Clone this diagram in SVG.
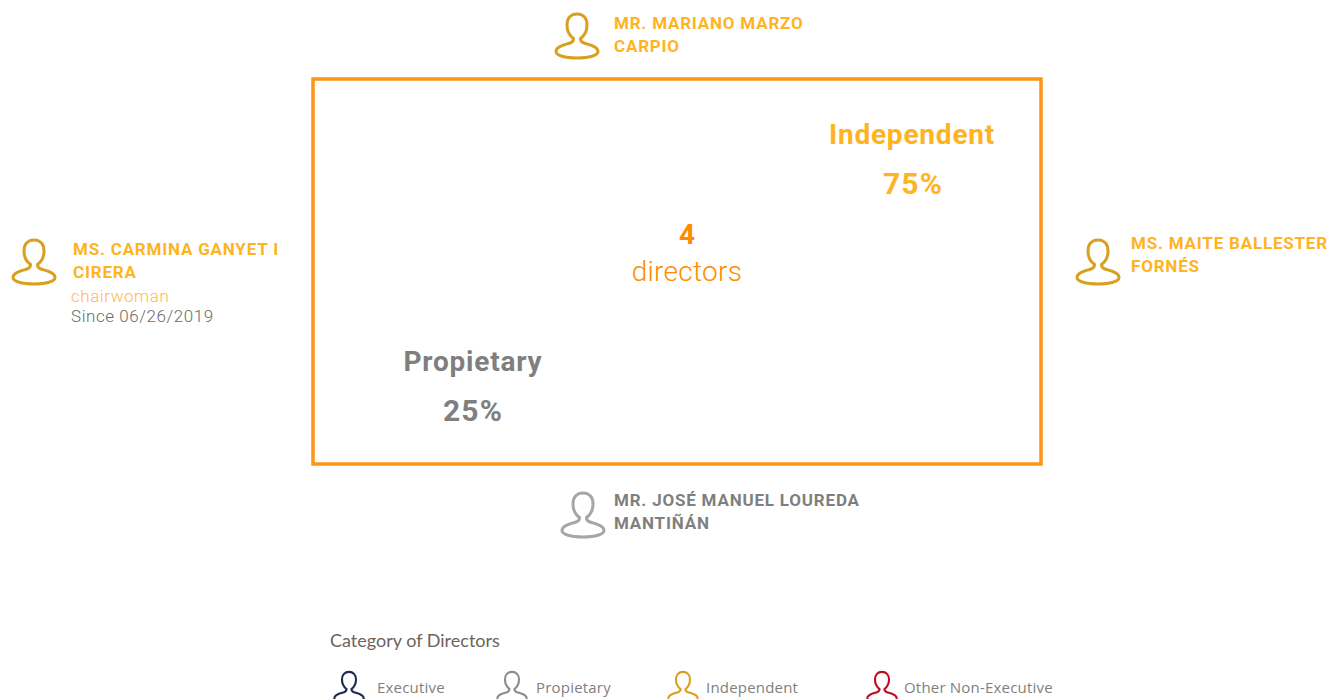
<svg xmlns="http://www.w3.org/2000/svg" width="1330" height="699" viewBox="0 0 1330 699">
<style>
text{font-family:"Roboto","Liberation Sans",sans-serif}
.n{font-size:17px;font-weight:700;letter-spacing:.8px;fill:#ffb31f}
.g{fill:#7f7f7f}
.t{font-size:28px;font-weight:700;letter-spacing:.8px;text-anchor:middle}
.c{font-size:30px;font-weight:700;letter-spacing:1.2px;text-anchor:middle}
.l{font-family:"Open Sans","Liberation Sans",sans-serif;font-size:15px;letter-spacing:.2px;fill:#7f7f7f}
.s{font-size:17px;font-weight:300;letter-spacing:.55px}
.p{fill:none;stroke-width:3}
</style>
<defs>
<g id="person">
<path class="p" d="M-10-12C-10-19-6-23 0-23S10-19 10-12C10-6 7-1 3.500 1.500C3.500 3.500 4 5 7 6C13 8 21 9.500 21 14.500C21 18.500 12 21 0 21S-21 18.500-21 14.500C-21 9.500-13 8-7 6C-4 5-3.500 3.500-3.500 1.500C-7-1-10-6-10-12Z"/>
</g>
</defs>
<g id="connectors"></g>
<g id="board"><rect x="313" y="79" width="728" height="385" fill="none" stroke="#ff9416" stroke-width="3.500"/></g>
<g id="center"><text x="687" y="244" font-size="28" font-weight="700" text-anchor="middle" fill="#ff8c00">4</text><text x="687" y="281" font-size="28" font-weight="300" letter-spacing=".3" text-anchor="middle" fill="#ff8c00">directors</text></g>
<g id="independent"><text x="912" y="144" class="t" fill="#ffb31f">Independent</text><text x="913" y="194" class="c" fill="#ffb31f">75%</text></g>
<g id="propietary"><text x="473" y="371" class="t g">Propietary</text><text x="473" y="421" class="c g">25%</text></g>
<g id="marzo"><use href="#person" x="577" y="37" stroke="#d9a020"/><text x="614" y="29" class="n">MR. MARIANO MARZO</text><text x="614" y="52" class="n">CARPIO</text></g>
<g id="ganyet"><use href="#person" x="34" y="263" stroke="#d9a020"/><text x="73" y="255" class="n">MS. CARMINA GANYET I</text><text x="73" y="278" class="n">CIRERA</text><text x="71" y="302" class="s" fill="#ffb84d">chairwoman</text><text x="71" y="322" class="s" fill="#6e6966">Since 06/26/2019</text></g>
<g id="ballester"><use href="#person" x="1098" y="263" stroke="#d9a020"/><text x="1131" y="249" class="n">MS. MAITE BALLESTER</text><text x="1131" y="272" class="n">FORNÉS</text></g>
<g id="loureda"><use href="#person" x="583" y="516" stroke="#a6a6a6"/><text x="614" y="506" class="n g">MR. JOSÉ MANUEL LOUREDA</text><text x="614" y="529" class="n g">MANTIÑÁN</text></g>
<g id="legend">
<text x="330" y="647" font-size="18" fill="#6e6259" style="font-family:'Lato','Liberation Sans',sans-serif">Category of Directors</text>
<g transform="translate(349 688) scale(.7)" stroke="#1f2a52"><use href="#person"/></g><text x="377" y="693" class="l">Executive</text>
<g transform="translate(512 688) scale(.7)" stroke="#8c8c8c"><use href="#person"/></g><text x="536" y="693" class="l">Propietary</text>
<g transform="translate(683 688) scale(.7)" stroke="#d9a020"><use href="#person"/></g><text x="706" y="693" class="l">Independent</text>
<g transform="translate(882 688) scale(.7)" stroke="#c00d1e"><use href="#person"/></g><text x="904" y="693" class="l">Other Non-Executive</text>
</g>
</svg>
